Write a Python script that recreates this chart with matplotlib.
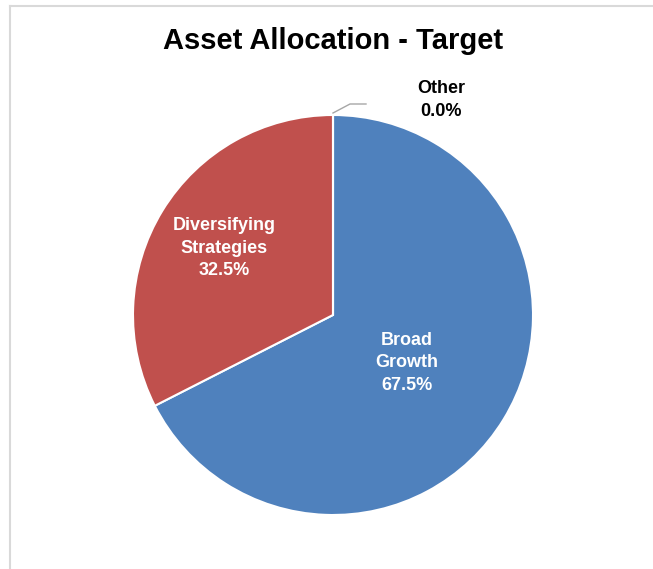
import numpy as np
import matplotlib.pyplot as plt
from matplotlib.lines import Line2D

# =============================================================================
# DATOS
# =============================================================================

categorias = ['Broad\nGrowth', 'Diversifying\nStrategies', 'Other']
valores = [67.5, 32.5, 0.0]
colores = ['#4F81BD', '#C0504D', '#9BBB59']
dist_etiqueta = [0.44, 0.64, 1.0]

plt.rcParams['font.family'] = ['Liberation Sans', 'DejaVu Sans']

# =============================================================================
# FIGURA
# =============================================================================

W, H = 653, 569
fig = plt.figure(figsize=(W/100, H/100), dpi=100)

# marco gris claro (arriba e izquierda)
fig.add_artist(Line2D([10/W, 1], [1 - 6/H, 1 - 6/H], color='#D9D9D9', lw=1.5))
fig.add_artist(Line2D([10/W, 10/W], [0, 1 - 6/H], color='#D9D9D9', lw=1.5))

fig.text(333/W, 1 - 41/H, 'Asset Allocation - Target', ha='center', va='center',
         fontsize=21, fontweight='bold')

cx, cy, r = 333, H - 315, 200
ax = fig.add_axes([(cx - r)/W, (cy - r)/H, 2*r/W, 2*r/H])

wedges, _ = ax.pie(valores, colors=colores, startangle=90, counterclock=False,
                   radius=1.0, wedgeprops=dict(edgecolor='white', linewidth=1.5))
ax.set_xlim(-1, 1)
ax.set_ylim(-1, 1)
ax.set_aspect('equal')
ax.axis('off')

# etiquetas dentro de las porciones
for w, cat, v, d in zip(wedges[:2], categorias[:2], valores[:2], dist_etiqueta[:2]):
    ang = np.deg2rad((w.theta1 + w.theta2) / 2 - (1.5 if v > 50 else 0))
    ax.text(d*np.cos(ang), d*np.sin(ang), f'{cat}\n{v:.1f}%', ha='center', va='center',
            color='white', fontsize=13, fontweight='bold', linespacing=1.4)

# etiqueta "Other" con línea guía
w = wedges[2]
ang = np.deg2rad((w.theta1 + w.theta2) / 2)
x0, y0 = np.cos(ang), np.sin(ang)
ax.plot([x0, x0 + 0.085, x0 + 0.165], [y0 + 0.01, y0 + 0.055, y0 + 0.055],
        color='#A6A6A6', lw=1, clip_on=False)
ax.text(x0 + 0.54, y0 + 0.075, f'{categorias[2]}\n{valores[2]:.1f}%', ha='center', va='center',
        color='black', fontsize=13, fontweight='bold', linespacing=1.4)

fig.savefig('out.png', dpi=100)
